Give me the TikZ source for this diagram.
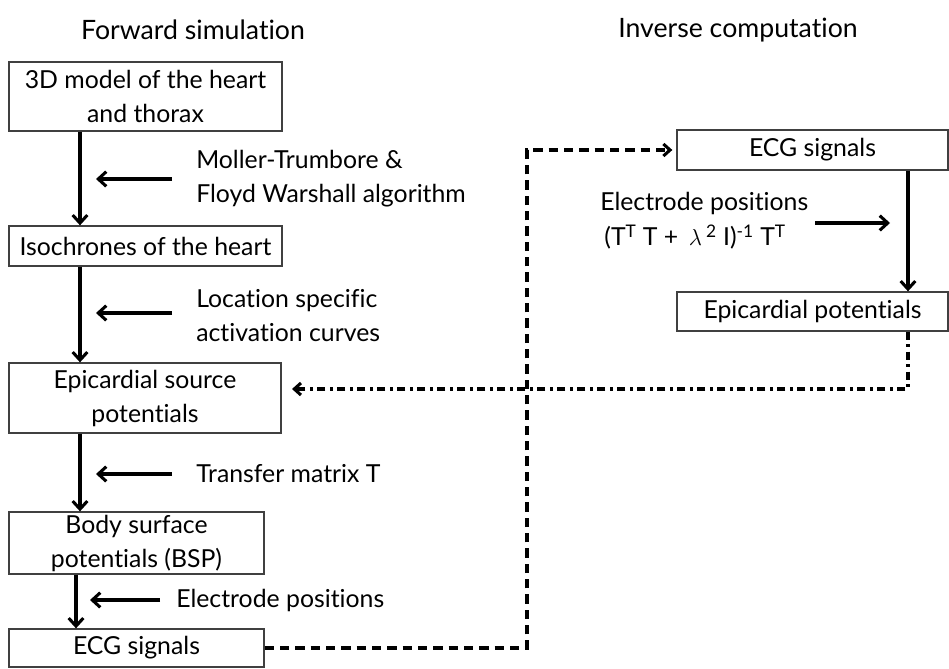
\documentclass[tikz,border=0pt]{standalone}
\usepackage{fontspec}
\setmainfont{Lato}[Ligatures=NoCommon]
\usetikzlibrary{arrows.meta,calc}
\newcommand\bodyfont{\fontsize{18.6}{25.5}\selectfont}
\newcommand\titlefont{\fontsize{20}{24}\selectfont}
\tikzset{
  box/.style={draw=black!75, line width=1pt, inner sep=0pt, align=center, font=\bodyfont},
  flow/.style={line width=2.3pt, -{Straight Barb[length=6pt,width=11pt,line width=2.3pt]}},
  side/.style={line width=2.3pt, -{Straight Barb[length=6pt,width=11pt,line width=2.3pt]}},
  link/.style={line width=2.3pt, dash pattern=on 7pt off 4.5pt, -{Straight Barb[length=5pt,width=9pt,line width=2.3pt]}},
  back/.style={line width=2.3pt, dash pattern=on 6pt off 3.5pt on 2pt off 3.5pt, -{Straight Barb[length=5pt,width=9pt,line width=2.3pt]}},
  note/.style={anchor=west, align=left, inner sep=0pt, font=\bodyfont},
}

\begin{document}
\begin{tikzpicture}[x=0.75pt, y=-0.75pt]
			%%%%% START %%%%%
			\useasboundingbox (0,0) rectangle (949,668);
			
			\node[font=\titlefont] (fwd) at (193,30) {Forward simulation};
			\node[font=\titlefont] (inv) at (738,30) {Inverse computation};
			
			% forward chain
			\node[box, minimum width=204.75pt, minimum height=51.75pt] (model) at (145.5,96.5) {3D model of the heart\\and thorax};
			\node[box, minimum width=204.75pt, minimum height=30pt] (iso) at (145.5,246) {Isochrones of the heart};
			\node[box, minimum width=204pt, minimum height=52.5pt] (source) at (145,398) {Epicardial source\\potentials};
			\node[box, minimum width=191.25pt, minimum height=46.5pt] (bsp) at (136.5,543) {Body surface\\potentials (BSP)};
			\node[box, minimum width=191.25pt, minimum height=28.5pt] (ecg) at (136.5,648) {ECG signals};
			
			\coordinate (col) at (80,0);
			\coordinate (colb) at (76,0);
			\draw[flow] (model.south -| col) -- (iso.north -| col);
			\draw[flow] (iso.south -| col) -- (source.north -| col);
			\draw[flow] (source.south -| col) -- (bsp.north -| col);
			\draw[flow] (bsp.south -| colb) -- (ecg.north -| colb);
			
			\node[note] (algo) at (196,179) {Moller-Trumbore \&\\Floyd Warshall algorithm};
			\node[note] (curves) at (196,316) {Location specific\\activation curves};
			\node[note] (transfer) at (196,474) {Transfer matrix T};
			\node[note] (elec) at (176,600) {Electrode positions};
			
			\draw[side] ($(algo.west)+(-24,0)$) -- ++(-76,0);
			\draw[side] ($(curves.west)+(-24,-3)$) -- ++(-76,0);
			\draw[side] ($(transfer.west)+(-24,0)$) -- ++(-76,0);
			\draw[side] ($(elec.west)+(-16,0)$) -- ++(-70,0);
			
			% inverse chain
			\node[box, minimum width=203.25pt, minimum height=30pt] (ecgin) at (812.5,150) {ECG signals};
			\node[box, minimum width=203.25pt, minimum height=29.25pt] (epi) at (812.5,311.5) {Epicardial potentials};
			
			\coordinate (colr) at (908,0);
			\draw[flow] (ecgin.south -| colr) -- (epi.north -| colr);
			
			\node[note] (solve) at (600,221) {Electrode positions\\[1pt]\,(T\textsuperscript{T} T + \,$\lambda$\,\textsuperscript{2} I)\textsuperscript{-1} T\textsuperscript{T}};
			\draw[side] (815,223) -- (890,223);
			
			% links between the two sides
			\coordinate (turn) at (527,0);
			\draw[link, shorten >=3pt] (ecg.east) -- (ecg.east -| turn) -- (ecgin.west -| turn) -- (ecgin.west);
			\coordinate (into) at (292,389);
			\draw[back] (epi.south -| colr) |- (into);
			%%%%% END %%%%%
\end{tikzpicture}
\end{document}
